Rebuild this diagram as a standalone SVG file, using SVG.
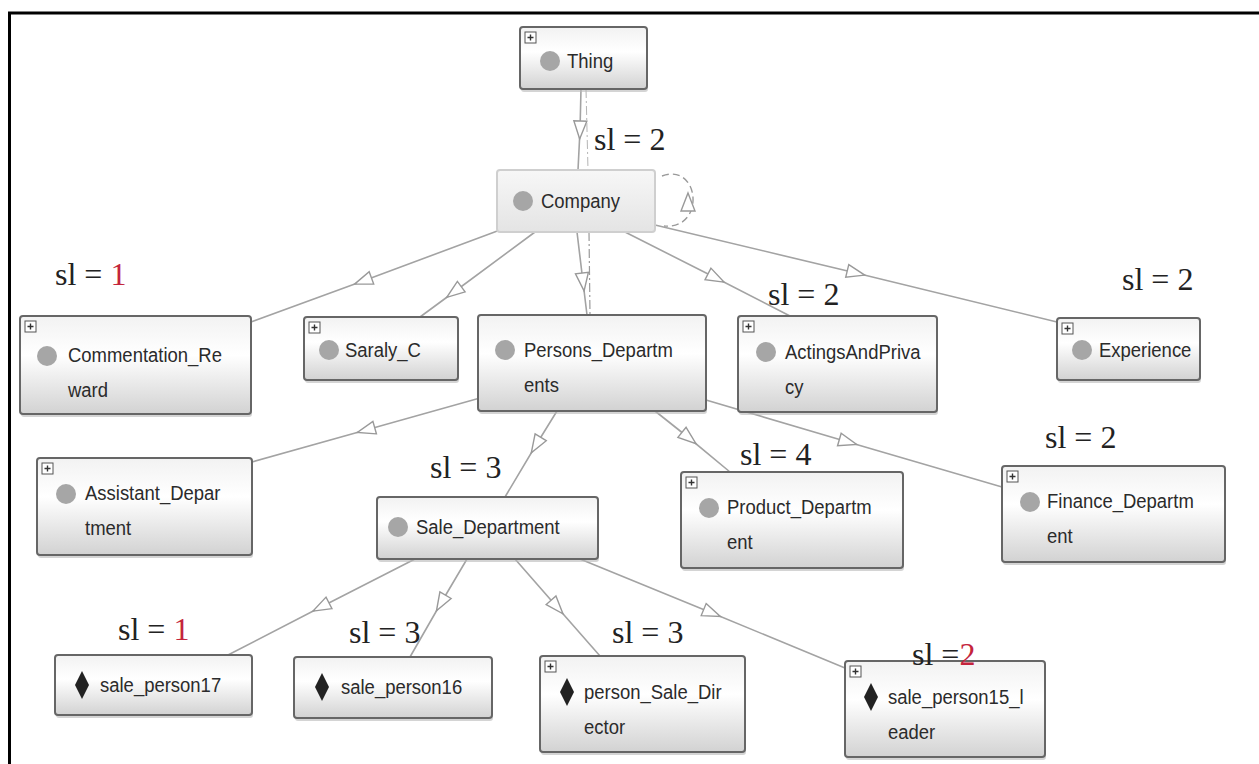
<svg xmlns="http://www.w3.org/2000/svg" width="1259" height="764" viewBox="0 0 1259 764">
  <defs>
    <linearGradient id="boxFill" x1="0" y1="0" x2="0" y2="1">
      <stop offset="0" stop-color="#f2f2f2"/>
      <stop offset="0.4" stop-color="#ffffff"/>
      <stop offset="1" stop-color="#d2d2d2"/>
    </linearGradient>
    <linearGradient id="selFill" x1="0" y1="0" x2="0" y2="1">
      <stop offset="0" stop-color="#f7f7f7"/>
      <stop offset="1" stop-color="#e4e4e4"/>
    </linearGradient>
    <symbol id="plus" overflow="visible">
      <rect x="0" y="0" width="11" height="11" fill="#fff" stroke="#555" stroke-width="1"/>
      <path d="M2.5,5.5 H8.5 M5.5,2.5 V8.5" stroke="#333" stroke-width="1.4"/>
    </symbol>
    <marker id="tri" markerUnits="userSpaceOnUse" markerWidth="20" markerHeight="14" refX="9" refY="6.5" orient="auto" overflow="visible">
      <path d="M0,0 L18,6.5 L0,13 Z" fill="#fff" stroke="#999" stroke-width="1.4"/>
    </marker>
  </defs>
  <style>
    .box { fill: url(#boxFill); stroke: #666; stroke-width: 2; }
    .shadow { fill: #b8b8b8; opacity: 0.6; }
    .lbl { font-family: "Liberation Sans", Arial, sans-serif; font-size: 21px; fill: #2b2b2b; }
    .dot { fill: #a6a6a6; }
    .dia { fill: #222; }
    .edge { fill: none; stroke: #a3a3a3; stroke-width: 1.6; marker-mid: url(#tri); }
    .sl { font-family: "Liberation Serif", "Times New Roman", serif; font-size: 32px; fill: #222; }
    .red { fill: #c4243c; }
  </style>

  <rect width="1259" height="764" fill="#fff"/>

  <!-- outer frame (top and left rules) -->
  <path d="M8,13 H1259 M9.5,12 V764" stroke="#000" stroke-width="3" fill="none"/>

  <!-- connectors -->
  <g id="connectors">
    <path class="edge" d="M581,89 L580,130 L578,170"/>
    <path d="M586,89 L588,170" fill="none" stroke="#b5b5b5" stroke-width="1" stroke-dasharray="9,3,2,3"/>
    <path class="edge" d="M500,230 L363,281 L251,322"/>
    <path class="edge" d="M535,232 L454,292 L420,317"/>
    <path class="edge" d="M577,232 L583,282 L587,315"/>
    <path d="M589,232 L590,315" fill="none" stroke="#9a9a9a" stroke-width="1.2" stroke-dasharray="9,3,2,3"/>
    <path class="edge" d="M625,232 L716,278 L790,316"/>
    <path class="edge" d="M655,225 L856,273 L1057,322"/>
    <path class="edge" d="M480,398 L366,430 L252,462"/>
    <path class="edge" d="M557,411 L536,445 L505,497"/>
    <path class="edge" d="M655,411 L689,438 L730,472"/>
    <path class="edge" d="M706,400 L848,442 L1002,487"/>
    <path class="edge" d="M415,559 L321,607 L228,655"/>
    <path class="edge" d="M467,559 L441,603 L410,657"/>
    <path class="edge" d="M515,559 L557,607 L600,656"/>
    <path class="edge" d="M580,559 L712,613 L845,668"/>
    <!-- self loop on Company -->
    <path d="M662,176 C700,162 706,230 664,226" fill="none" stroke="#9a9a9a" stroke-width="1.4" stroke-dasharray="7,4"/>
    <path d="M688,193 L695,211 L681,211 Z" fill="#fff" stroke="#999" stroke-width="1.4"/>
  </g>

  <!-- nodes: labels are set in a condensed sans (horizontal scale .88) -->
  <g id="thing">
    <rect class="shadow" x="521" y="30" width="127" height="62" rx="3"/>
    <rect class="box" x="520" y="27" width="127" height="62" rx="3"/>
    <use href="#plus" x="525" y="32"/>
    <circle class="dot" cx="550" cy="61" r="10"/>
    <text class="lbl" transform="translate(567 68) scale(.88 1)">Thing</text>
  </g>

  <g id="company">
    <rect x="497" y="170" width="158" height="62" rx="3" fill="url(#selFill)" stroke="#cfcfcf" stroke-width="2"/>
    <circle class="dot" cx="523" cy="201" r="10"/>
    <text class="lbl" transform="translate(541 208) scale(.88 1)">Company</text>
  </g>

  <g id="commentation-reward">
    <rect class="shadow" x="21" y="319" width="231" height="98" rx="3"/>
    <rect class="box" x="20" y="316" width="231" height="98" rx="3"/>
    <use href="#plus" x="25" y="321"/>
    <circle class="dot" cx="47" cy="356" r="10"/>
    <text class="lbl" transform="translate(68 362) scale(.88 1)">Commentation_Re<tspan x="0" dy="35">ward</tspan></text>
  </g>

  <g id="saraly-c">
    <rect class="shadow" x="305" y="320" width="154" height="63" rx="3"/>
    <rect class="box" x="304" y="317" width="154" height="63" rx="3"/>
    <use href="#plus" x="309" y="322"/>
    <circle class="dot" cx="329" cy="350" r="10"/>
    <text class="lbl" transform="translate(345 357) scale(.88 1)">Saraly_C</text>
  </g>

  <g id="persons-departments">
    <rect class="shadow" x="479" y="318" width="228" height="96" rx="3"/>
    <rect class="box" x="478" y="315" width="228" height="96" rx="3"/>
    <circle class="dot" cx="505" cy="350" r="10"/>
    <text class="lbl" transform="translate(524 357) scale(.88 1)">Persons_Departm<tspan x="0" dy="35">ents</tspan></text>
  </g>

  <g id="actings-and-privacy">
    <rect class="shadow" x="739" y="319" width="199" height="96" rx="3"/>
    <rect class="box" x="738" y="316" width="199" height="96" rx="3"/>
    <use href="#plus" x="743" y="321"/>
    <circle class="dot" cx="766" cy="352" r="10"/>
    <text class="lbl" transform="translate(785 359) scale(.88 1)">ActingsAndPriva<tspan x="0" dy="35">cy</tspan></text>
  </g>

  <g id="experience">
    <rect class="shadow" x="1058" y="321" width="143" height="62" rx="3"/>
    <rect class="box" x="1057" y="318" width="143" height="62" rx="3"/>
    <use href="#plus" x="1062" y="323"/>
    <circle class="dot" cx="1082" cy="350" r="10"/>
    <text class="lbl" transform="translate(1099 357) scale(.88 1)">Experience</text>
  </g>

  <g id="assistant-department">
    <rect class="shadow" x="38" y="461" width="215" height="97" rx="3"/>
    <rect class="box" x="37" y="458" width="215" height="97" rx="3"/>
    <use href="#plus" x="42" y="463"/>
    <circle class="dot" cx="66" cy="494" r="10"/>
    <text class="lbl" transform="translate(85 500) scale(.88 1)">Assistant_Depar<tspan x="0" dy="35">tment</tspan></text>
  </g>

  <g id="sale-department">
    <rect class="shadow" x="378" y="500" width="221" height="62" rx="3"/>
    <rect class="box" x="377" y="497" width="221" height="62" rx="3"/>
    <circle class="dot" cx="398" cy="527" r="10"/>
    <text class="lbl" transform="translate(416 534) scale(.88 1)">Sale_Department</text>
  </g>

  <g id="product-department">
    <rect class="shadow" x="682" y="475" width="222" height="96" rx="3"/>
    <rect class="box" x="681" y="472" width="222" height="96" rx="3"/>
    <use href="#plus" x="686" y="477"/>
    <circle class="dot" cx="709" cy="508" r="10"/>
    <text class="lbl" transform="translate(727 514) scale(.88 1)">Product_Departm<tspan x="0" dy="35">ent</tspan></text>
  </g>

  <g id="finance-department">
    <rect class="shadow" x="1003" y="469" width="223" height="96" rx="3"/>
    <rect class="box" x="1002" y="466" width="223" height="96" rx="3"/>
    <use href="#plus" x="1007" y="471"/>
    <circle class="dot" cx="1030" cy="502" r="10"/>
    <text class="lbl" transform="translate(1047 508) scale(.88 1)">Finance_Departm<tspan x="0" dy="35">ent</tspan></text>
  </g>

  <g id="sale-person17">
    <rect class="shadow" x="56" y="658" width="197" height="60" rx="3"/>
    <rect class="box" x="55" y="655" width="197" height="60" rx="3"/>
    <path class="dia" d="M82,671 L89,685 L82,699 L75,685 Z"/>
    <text class="lbl" transform="translate(100 692) scale(.88 1)">sale_person17</text>
  </g>

  <g id="sale-person16">
    <rect class="shadow" x="295" y="660" width="198" height="61" rx="3"/>
    <rect class="box" x="294" y="657" width="198" height="61" rx="3"/>
    <path class="dia" d="M322,673 L329,687 L322,701 L315,687 Z"/>
    <text class="lbl" transform="translate(341 694) scale(.88 1)">sale_person16</text>
  </g>

  <g id="person-sale-director">
    <rect class="shadow" x="541" y="659" width="205" height="96" rx="3"/>
    <rect class="box" x="540" y="656" width="205" height="96" rx="3"/>
    <use href="#plus" x="545" y="661"/>
    <path class="dia" d="M567,678 L574,692 L567,706 L560,692 Z"/>
    <text class="lbl" transform="translate(584 699) scale(.88 1)">person_Sale_Dir<tspan x="0" dy="35">ector</tspan></text>
  </g>

  <g id="sale-person15-leader">
    <rect class="shadow" x="846" y="664" width="200" height="96" rx="3"/>
    <rect class="box" x="845" y="661" width="200" height="96" rx="3"/>
    <use href="#plus" x="850" y="666"/>
    <path class="dia" d="M871,683 L878,697 L871,711 L864,697 Z"/>
    <text class="lbl" transform="translate(888 704) scale(.88 1)">sale_person15_l<tspan x="0" dy="35">eader</tspan></text>
  </g>

  <!-- sl annotations -->
  <g id="sl-labels">
    <text class="sl" x="594" y="150">sl = 2</text>
    <text class="sl" x="55" y="285">sl =  <tspan class="red">1</tspan></text>
    <text class="sl" x="768" y="305">sl = 2</text>
    <text class="sl" x="1122" y="290">sl = 2</text>
    <text class="sl" x="430" y="478">sl = 3</text>
    <text class="sl" x="740" y="465">sl = 4</text>
    <text class="sl" x="1045" y="448">sl = 2</text>
    <text class="sl" x="118" y="640">sl = <tspan class="red">1</tspan></text>
    <text class="sl" x="349" y="643">sl = 3</text>
    <text class="sl" x="612" y="643">sl = 3</text>
    <text class="sl" x="912" y="665">sl =<tspan class="red">2</tspan></text>
  </g>
</svg>
